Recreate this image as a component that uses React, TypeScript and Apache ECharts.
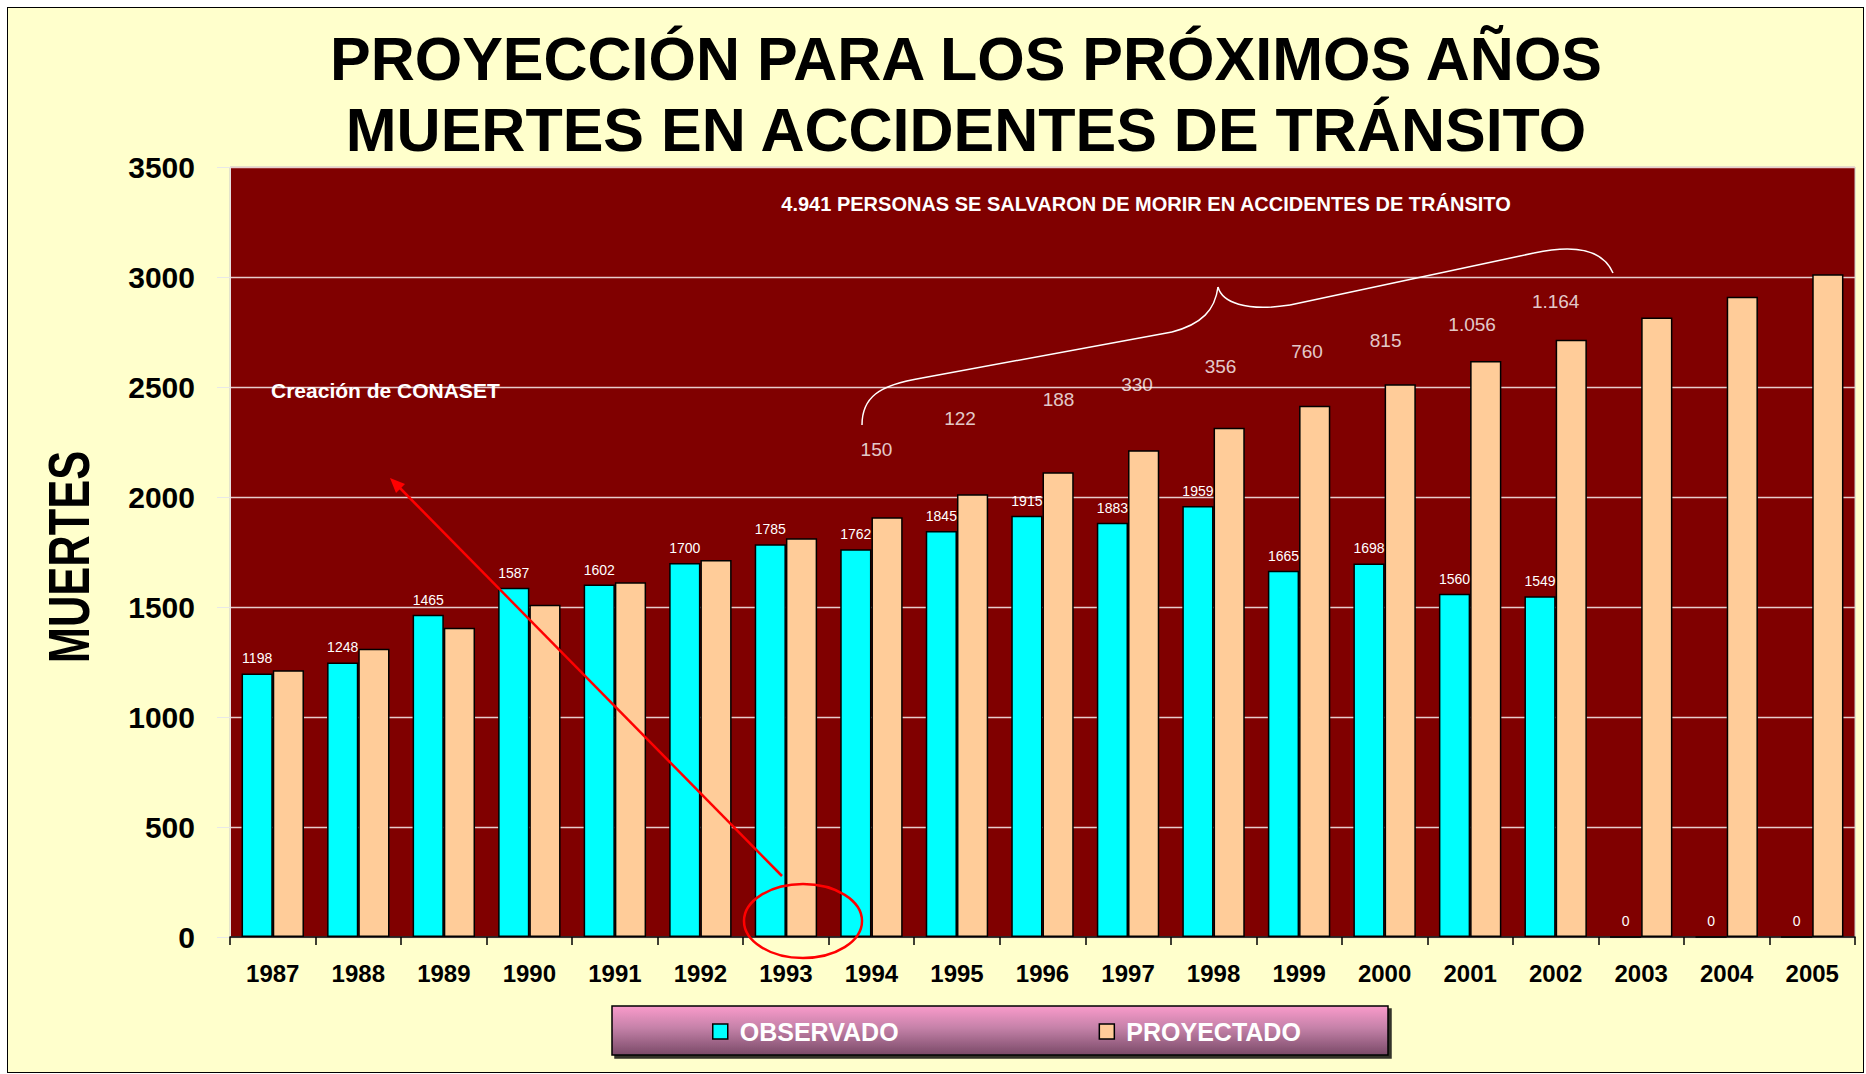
import React, { useEffect, useRef } from "react";
import * as echarts from "echarts";

const years = ["1987","1988","1989","1990","1991","1992","1993","1994","1995","1996","1997","1998","1999","2000","2001","2002","2003","2004","2005"];
const observado = [1198,1248,1465,1587,1602,1700,1785,1762,1845,1915,1883,1959,1665,1698,1560,1549,0,0,0];
const proyectado = [1212,1310,1406,1510,1612,1714,1812,1908,2012,2112,2213,2315,2415,2513,2618,2715,2816,2910,3012];
const salvadosYears = ["1994","1995","1996","1997","1998","1999","2000","2001","2002"];
const salvados = [150,122,188,330,356,760,815,1056,1164];
const yTicks = { min: 0, max: 3500, interval: 500 };

// layout of the "saved lives" annotation labels (axis units / pixel offsets)
const salvadosLabelY = [2214,2355,2441,2511,2591,2661,2711,2784,2890];
const salvadosLabelDx = [5,3,16,9,7,8,1,2,0];

const FONT = "'Liberation Sans', Arial, sans-serif";

const fmtMiles = (n: number) => String(n).replace(/\B(?=(\d{3})+(?!\d))/g, ".");

export default function App() {
  const ref = useRef<HTMLDivElement>(null);
  useEffect(() => {
    if (!ref.current) return;
    const chart = echarts.init(ref.current, null, { renderer: "svg" });
    const total = salvados.reduce((a, b) => a + b, 0);
    const option: any = {
      animation: false,
      backgroundColor: "transparent",
      title: {
        text: "PROYECCIÓN PARA LOS PRÓXIMOS AÑOS\nMUERTES EN ACCIDENTES DE TRÁNSITO",
        left: 966,
        top: 23,
        textAlign: "center",
        padding: 0,
        textStyle: { fontSize: 61, fontWeight: "bold", fontFamily: FONT, color: "#000", lineHeight: 71 },
      },
      legend: {
        data: ["OBSERVADO", "PROYECTADO"],
        left: 712,
        top: 1019,
        padding: 0,
        itemWidth: 15,
        itemHeight: 15,
        itemGap: 200,
        icon: "rect",
        textStyle: { color: "#fff", fontSize: 25, fontWeight: "bold", fontFamily: FONT, padding: [0, 0, 0, 7] },
        itemStyle: { borderColor: "#000", borderWidth: 1.5 },
      },
      grid: {
        left: 230,
        right: 11,
        top: 167,
        bottom: 137,
        show: true,
        backgroundColor: "#800000",
        borderColor: "#c8c8c8",
        borderWidth: 1,
      },
      xAxis: {
        type: "category",
        data: years,
        axisLine: { show: true, lineStyle: { color: "#000", width: 1.5 } },
        axisTick: { show: true, length: 8, lineStyle: { color: "#000", width: 1.5 } },
        axisLabel: { color: "#000", fontSize: 24, fontWeight: "bold", fontFamily: FONT, margin: 24, interval: 0 },
      },
      yAxis: {
        type: "value",
        min: yTicks.min,
        max: yTicks.max,
        interval: yTicks.interval,
        axisLine: { show: true, lineStyle: { color: "#e8e0e0", width: 1 } },
        axisTick: { show: true, length: 13, lineStyle: { color: "#e8e8e8", width: 1 } },
        axisLabel: {
          color: "#000",
          fontSize: 30,
          fontWeight: "bold",
          fontFamily: FONT,
          margin: 35,
          formatter: (v: number) => String(v),
        },
        splitLine: { show: true, lineStyle: { color: "#e6cccc", width: 1.3 } },
      },
      series: [
        {
          name: "OBSERVADO",
          type: "bar",
          data: observado,
          barGap: "0%",
          barCategoryGap: "27%",
          itemStyle: { color: "#00FFFF", borderColor: "#000", borderWidth: 1.5 },
          label: { show: true, position: "top", distance: 8, color: "#fff", fontSize: 14, fontFamily: FONT },
        },
        {
          name: "PROYECTADO",
          type: "bar",
          data: proyectado,
          barGap: "0%",
          barCategoryGap: "27%",
          itemStyle: { color: "#FFCC99", borderColor: "#000", borderWidth: 1.5 },
        },
        {
          name: "SALVADOS",
          type: "scatter",
          data: salvados.map((v, i) => [salvadosYears[i], salvadosLabelY[i]]),
          symbolSize: 1,
          itemStyle: { color: "rgba(0,0,0,0)" },
          silent: true,
          label: {
            show: true,
            position: "inside",
            color: "#fff",
            fontSize: 19,
            fontFamily: FONT,
            formatter: (p: any) => fmtMiles(salvados[p.dataIndex]),
          },
          labelLayout: (p: any) => ({ dx: salvadosLabelDx[p.dataIndex] }),
        },
      ],
      graphic: [
        {
          type: "rect",
          z: 1,
          shape: { x: 612, y: 1006, width: 776, height: 49 },
          style: {
            fill: new echarts.graphic.LinearGradient(0, 0, 0, 1, [
              { offset: 0, color: "#FA9BCB" },
              { offset: 0.45, color: "#C481A8" },
              { offset: 1, color: "#7A4A68" },
            ]),
            stroke: "#000",
            lineWidth: 1.5,
            shadowColor: "rgba(0,0,0,0.8)",
            shadowOffsetX: 3,
            shadowOffsetY: 3,
            shadowBlur: 0,
          },
        },
        {
          type: "text",
          x: 69,
          y: 557,
          rotation: Math.PI / 2,
          scaleX: 0.75,
          style: { text: "MUERTES", fontSize: 58, fontWeight: "bold", fontFamily: FONT, fill: "#000", align: "center", verticalAlign: "middle" },
        },
        {
          type: "text",
          z: 50,
          x: 1146,
          y: 204,
          style: {
            text: fmtMiles(total) + " PERSONAS SE SALVARON DE MORIR EN ACCIDENTES DE TRÁNSITO",
            fontSize: 20,
            fontWeight: "bold",
            fontFamily: FONT,
            fill: "#fff",
            align: "center",
            verticalAlign: "middle",
          },
        },
        {
          type: "text",
          z: 50,
          x: 271,
          y: 390,
          style: { text: "Creación de CONASET", fontSize: 21, fontWeight: "bold", fontFamily: FONT, fill: "#fff", align: "left", verticalAlign: "middle" },
        },
        // red arrow
        {
          type: "line",
          z: 50,
          shape: { x1: 782, y1: 876, x2: 396, y2: 484 },
          style: { stroke: "#FF0000", lineWidth: 2.5 },
        },
        {
          type: "polygon",
          z: 50,
          shape: { points: [[390, 478], [405, 484], [396, 493]] },
          style: { fill: "#FF0000" },
        },
        // red ellipse
        {
          type: "ellipse",
          z: 50,
          shape: { cx: 803, cy: 921, rx: 59, ry: 37 },
          style: { fill: null, stroke: "#FF0000", lineWidth: 2.5 },
        },
        // white brace
        {
          type: "bezierCurve",
          z: 50,
          shape: { x1: 862, y1: 425, cpx1: 862, cpy1: 398, cpx2: 878, cpy2: 385, x2: 922, y2: 378 },
          style: { stroke: "#fff", lineWidth: 1.5, fill: null },
        },
        {
          type: "line",
          z: 50,
          shape: { x1: 922, y1: 378, x2: 1172, y2: 332 },
          style: { stroke: "#fff", lineWidth: 1.5 },
        },
        {
          type: "bezierCurve",
          z: 50,
          shape: { x1: 1172, y1: 332, cpx1: 1202, cpy1: 324, cpx2: 1215, cpy2: 310, x2: 1218, y2: 287 },
          style: { stroke: "#fff", lineWidth: 1.5, fill: null },
        },
        {
          type: "bezierCurve",
          z: 50,
          shape: { x1: 1218, y1: 287, cpx1: 1222, cpy1: 302, cpx2: 1245, cpy2: 312, x2: 1290, y2: 305 },
          style: { stroke: "#fff", lineWidth: 1.5, fill: null },
        },
        {
          type: "line",
          z: 50,
          shape: { x1: 1290, y1: 305, x2: 1534, y2: 253 },
          style: { stroke: "#fff", lineWidth: 1.5 },
        },
        {
          type: "bezierCurve",
          z: 50,
          shape: { x1: 1534, y1: 253, cpx1: 1575, cpy1: 244, cpx2: 1603, cpy2: 250, x2: 1613, y2: 273 },
          style: { stroke: "#fff", lineWidth: 1.5, fill: null },
        },
      ],
    };
    chart.setOption(option);
    return () => chart.dispose();
  }, []);

  return (
    <div style={{ position: "fixed", left: 0, top: 0, width: 1866, height: 1074, background: "#fff" }}>
      <div
        style={{
          position: "absolute",
          left: 7,
          top: 7,
          width: 1855,
          height: 1064,
          background: "#FFFFCC",
          border: "1.5px solid #000",
        }}
      />
      <div ref={ref} style={{ position: "absolute", left: 0, top: 0, width: 1866, height: 1074 }} />
    </div>
  );
}
